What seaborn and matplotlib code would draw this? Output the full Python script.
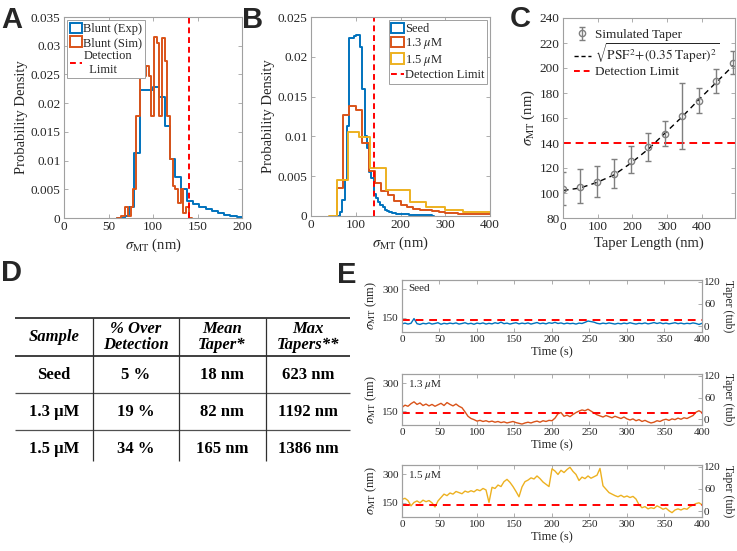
import numpy as np
import pandas as pd
import matplotlib
matplotlib.use("Agg")
import matplotlib.pyplot as plt
import seaborn as sns
from matplotlib.patches import Patch
from matplotlib.lines import Line2D
from matplotlib.ticker import FuncFormatter

# ---------------- data ----------------
DETECTION = 140  # nm

# A: blunt microtubule ends, experiment vs simulation
blunt_exp_edges = [60, 68, 73, 78.5, 85, 92, 99.5, 106.5, 113.5, 119.5, 125, 132, 138,
                   145, 152, 159, 166, 173, 180, 187, 194, 200, 205]
blunt_exp_dens = [0, 0.0004, 0.002, 0.0114, 0.0223, 0.0223, 0.0228, 0.0211, 0.016, 0.0103,
                  0.0072, 0.005, 0.0029, 0.0024, 0.0019, 0.0016, 0.0012, 0.0008, 0.0006,
                  0.0004, 0.0002, 0]
blunt_sim_edges = [60, 64, 68, 72, 75, 77.5, 81, 85, 89, 92, 95.5, 98, 101, 104, 107, 110,
                   113, 116, 119, 122, 125, 128, 131, 134, 137, 140, 144]
blunt_sim_dens = [0, 0.0003, 0.002, 0.0003, 0.002, 0.005, 0.0177, 0.0258, 0.0248, 0.0265,
                  0.0248, 0.0177, 0.0316, 0.0305, 0.0177, 0.0313, 0.0273, 0.0177, 0.0102,
                  0.0055, 0.005, 0.0026, 0.005, 0.0009, 0.002, 0]

# B: seed vs growing ends
seed_edges = [60, 65, 70, 75, 80, 85, 90, 95, 100, 105, 110, 115, 120, 125, 130, 135, 140,
              145, 150, 155, 160, 165, 170, 175, 180, 190, 200, 220, 240, 270, 275]
seed_dens = [0, 0.0005, 0.002, 0.0045, 0.0113, 0.0224, 0.0224, 0.0226, 0.0228, 0.0228,
             0.0212, 0.016, 0.0101, 0.0085, 0.0055, 0.0048, 0.0028, 0.0022, 0.0018, 0.0014,
             0.0011, 0.0008, 0.0006, 0.0005, 0.0004, 0.0003, 0.0002, 0.0001, 0.0001, 0]
tub13_edges = [43, 57, 71.4, 85.7, 100, 114.3, 128.6, 142.9, 157.1, 171.4, 185.7, 200,
               214.3, 228.6, 242.9, 257.1, 271.4, 285.7, 300, 314.3, 328.6, 342.9, 357.1,
               371.4, 385.7, 400]
tub13_dens = [0, 0.0035, 0.0127, 0.0138, 0.0133, 0.0092, 0.0056, 0.0041, 0.0031, 0.0026,
              0.0019, 0.0014, 0.0011, 0.0009, 0.0008, 0.0007, 0.0006, 0.0005, 0.0004, 0.0004,
              0.0003, 0.0003, 0.0002, 0.0002, 0.0002]
tub15_edges = [40, 58, 82, 108, 132, 168, 222, 258, 300, 340, 400]
tub15_dens = [0, 0.0045, 0.0106, 0.0099, 0.006, 0.0033, 0.0018, 0.0011, 0.0008, 0.0005]

# C: simulated tapers
taper_len = [0, 49, 98, 147, 196, 245, 294, 343, 392, 441, 490]
sigma_mean = [103.5, 105, 109, 115.5, 126, 136.5, 147, 162, 174, 189.5, 204]
sigma_low = [90.7, 92, 96.8, 104, 116, 125.3, 137.3, 135.5, 164, 180, 195.5]
sigma_high = [116.8, 119, 121.9, 127.5, 137.9, 148, 158, 188, 184, 199, 214]
fit_sigma = [102, 104, 108.5, 114.5, 124, 135, 148, 161, 175, 188.5, 202]

# D: table
samples = ["Seed", "1.3 \u03bcM", "1.5 \u03bcM"]
pct_over = ["5 %", "19 %", "34 %"]
mean_taper = ["18 nm", "82 nm", "165 nm"]
max_taper = ["623 nm", "1192 nm", "1386 nm"]
table_header = ["Sample", "% Over\nDetection", "Mean\nTaper*", "Max\nTapers**"]

# E: sigma_MT time traces (one value every 4 s, 0-400 s)
trace_seed = [118, 122, 117, 121, 146, 119, 115, 121, 118, 123,
              117, 120, 124, 116, 121, 118, 122, 119, 123, 117,
              120, 124, 118, 121, 116, 122, 119, 123, 117, 121,
              118, 124, 120, 127, 119, 122, 117, 121, 124, 118,
              122, 119, 123, 117, 121, 125, 119, 122, 118, 124,
              121, 126, 120, 123, 118, 122, 119, 121, 117, 122,
              120, 126, 133, 130, 127, 121, 118, 122, 119, 123,
              120, 117, 121, 118, 122, 119, 124, 120, 117, 121,
              119, 123, 118, 121, 125, 120, 124, 119, 122, 118,
              121, 124, 119, 122, 118, 121, 119, 123, 120, 115,
              121]
trace_13 = [170, 182, 176, 190, 200, 186, 194, 180, 188, 178,
            186, 176, 184, 192, 180, 196, 186, 178, 188, 176,
            168, 146, 122, 110, 104, 96, 100, 94, 98, 92,
            96, 90, 94, 88, 92, 86, 90, 94, 88, 84,
            80, 86, 90, 86, 92, 96, 90, 98, 94, 100,
            98, 112, 136, 142, 122, 128, 120, 132, 142, 150,
            156, 152, 160, 150, 140, 130, 124, 118, 126, 120,
            114, 122, 116, 110, 118, 108, 102, 108, 98, 104,
            94, 100, 92, 86, 90, 98, 94, 102, 106, 100,
            108, 104, 112, 106, 114, 110, 118, 126, 144, 152,
            142]
trace_15 = [168, 174, 162, 134, 152, 160, 150, 164, 156, 162,
            150, 128, 160, 178, 196, 188, 202, 196, 210, 204,
            198, 212, 206, 214, 208, 220, 214, 226, 218, 152,
            232, 226, 244, 236, 262, 274, 258, 236, 210, 182,
            234, 262, 270, 282, 276, 292, 278, 260, 248, 236,
            330, 318, 300, 322, 310, 326, 338, 316, 300, 268,
            286, 278, 292, 280, 288, 296, 332, 240, 222, 204,
            196, 188, 182, 190, 180, 186, 178, 184, 170, 140,
            124, 130, 118, 124, 120, 134, 126, 116, 122, 108,
            98, 112, 118, 112, 120, 116, 130, 138, 146, 150,
            140]
trace_labels = ["Seed", r"1.3 $\mu$M", r"1.5 $\mu$M"]

# ---------------- style ----------------
BLUE, ORANGE, YELLOW = "#0072BD", "#D95319", "#EDB120"
RED, GREY, SPINE = "#FF0000", "#7f7f7f", "#a0a0a0"

sns.set_theme(style="ticks")
plt.rcParams["font.family"] = ["Liberation Serif", "DejaVu Serif"]
plt.rcParams["mathtext.fontset"] = "stix"
plt.rcParams["text.color"] = "#262626"
plt.rcParams["axes.labelcolor"] = "#262626"
plt.rcParams["xtick.color"] = "#262626"
plt.rcParams["ytick.color"] = "#262626"

W, H = 737, 551
fig = plt.figure(figsize=(W / 100, H / 100), dpi=100)


def rect(left, top, right, bottom):
    return [left / W, 1 - bottom / H, (right - left) / W, (bottom - top) / H]


def matlab_axes(ax, fs=9.5, right=True):
    for s in ax.spines.values():
        s.set_color(SPINE)
        s.set_linewidth(0.8)
    ax.tick_params(direction="in", length=3, width=0.6, color=SPINE, labelsize=fs,
                   top=True, right=right, pad=2.5)


def step_hist(ax, edges, dens, color):
    centers = [(a + b) / 2 for a, b in zip(edges[:-1], edges[1:])]
    df = pd.DataFrame({"x": centers, "w": dens})
    sns.histplot(data=df, x="x", weights="w", bins=list(edges), element="step",
                 fill=False, color=color, linewidth=1.4, ax=ax)


gfmt = FuncFormatter(lambda v, p: f"{v:g}")
sig_label = r"$\sigma_{\rm MT}$ (nm)"

# ---------------- A ----------------
axA = fig.add_axes(rect(64, 17, 242, 218))
step_hist(axA, blunt_exp_edges, blunt_exp_dens, BLUE)
step_hist(axA, blunt_sim_edges, blunt_sim_dens, ORANGE)
axA.axvline(DETECTION, color=RED, ls=(0, (3, 2)), lw=1.4)
axA.set_xlim(0, 200)
axA.set_ylim(0, 0.035)
axA.set_xticks([0, 50, 100, 150, 200])
axA.set_yticks([0, 0.005, 0.01, 0.015, 0.02, 0.025, 0.03, 0.035])
axA.yaxis.set_major_formatter(gfmt)
axA.set_xlabel(sig_label, fontsize=10.5, labelpad=2)
axA.set_ylabel("Probability Density", fontsize=10.5, labelpad=2)
matlab_axes(axA)
hA = [Patch(facecolor="none", edgecolor=BLUE, lw=1.4),
      Patch(facecolor="none", edgecolor=ORANGE, lw=1.4),
      Line2D([], [], color=RED, ls=(0, (3, 2)), lw=1.4)]
legA = axA.legend(hA, ["Blunt (Exp)", "Blunt (Sim)", "Detection\n  Limit"], loc="upper left",
                  fontsize=9, handlelength=1.0, handleheight=0.9, handletextpad=0.1,
                  borderpad=0.2, labelspacing=0.1, borderaxespad=0.25, fancybox=False,
                  edgecolor=SPINE, framealpha=1)
legA.get_frame().set_linewidth(0.7)

# ---------------- B ----------------
axB = fig.add_axes(rect(311, 17, 490, 216))
step_hist(axB, seed_edges, seed_dens, BLUE)
step_hist(axB, tub13_edges, tub13_dens, ORANGE)
step_hist(axB, tub15_edges, tub15_dens, YELLOW)
axB.axvline(DETECTION, color=RED, ls=(0, (3, 2)), lw=1.4)
axB.set_xlim(0, 400)
axB.set_ylim(0, 0.025)
axB.set_xticks([0, 100, 200, 300, 400])
axB.set_yticks([0, 0.005, 0.01, 0.015, 0.02, 0.025])
axB.yaxis.set_major_formatter(gfmt)
axB.set_xlabel(sig_label, fontsize=10.5, labelpad=2)
axB.set_ylabel("Probability Density", fontsize=10.5, labelpad=2)
matlab_axes(axB)
hB = [Patch(facecolor="none", edgecolor=c, lw=1.4) for c in (BLUE, ORANGE, YELLOW)]
hB.append(Line2D([], [], color=RED, ls=(0, (3, 2)), lw=1.4))
legB = axB.legend(hB, ["Seed", r"1.3 $\mu$M", r"1.5 $\mu$M", "Detection Limit"],
                  loc="upper right", fontsize=9, handlelength=1.0, handleheight=0.9,
                  handletextpad=0.1, borderpad=0.2, labelspacing=0.1, borderaxespad=0.25,
                  fancybox=False, edgecolor=SPINE, framealpha=1)
legB.get_frame().set_linewidth(0.7)

# ---------------- C ----------------
axC = fig.add_axes(rect(563, 18, 735, 218))
axC.axhline(DETECTION, color=RED, ls=(0, (4, 2.5)), lw=1.4)
sns.lineplot(x=taper_len, y=fit_sigma, color="black", lw=1.0, linestyle=(0, (4, 3)), ax=axC)
yerr = [np.subtract(sigma_mean, sigma_low), np.subtract(sigma_high, sigma_mean)]
eb = axC.errorbar(taper_len, sigma_mean, yerr=yerr, fmt="o", ms=4.5, mfc="none", mec=GREY,
                  mew=1.0, ecolor=GREY, elinewidth=1.0, capsize=2.5, capthick=1.0)
axC.set_xlim(0, 495)
axC.set_ylim(80, 240)
axC.set_xticks([0, 100, 200, 300, 400])
axC.set_yticks(range(80, 241, 20))
axC.set_xlabel("Taper Length (nm)", fontsize=10.5, labelpad=2)
axC.set_ylabel(sig_label, fontsize=10.5, labelpad=2)
matlab_axes(axC)
axC.legend([eb, Line2D([], [], color="black", ls=(0, (3, 2)), lw=1.0),
            Line2D([], [], color=RED, ls=(0, (3, 2)), lw=1.4)],
           ["Simulated Taper", r"$\sqrt{\mathrm{PSF}^2\!+\!(0.35\ \mathrm{Taper})^2}$",
            "Detection Limit"],
           loc="upper left", frameon=False, fontsize=9.5, handlelength=1.3,
           handletextpad=0.3, labelspacing=0.05, borderaxespad=0.4)

# ---------------- D (table) ----------------
axT = fig.add_axes([0, 0, 1, 1], zorder=-1)
axT.set_xlim(0, W)
axT.set_ylim(H, 0)
axT.axis("off")
col_x = [54, 136, 222, 308]
row_y = [375, 412, 449]
axT.hlines([318, 356], 15, 350, color="#303030", lw=1.3)
axT.hlines([393, 430], 15, 350, color="#505050", lw=0.9)
axT.vlines([93, 179, 266], 318, 461, color="#303030", lw=0.9)
for x, txt in zip(col_x, table_header):
    axT.text(x, 337, txt, ha="center", va="center", fontsize=12, fontweight="bold",
             fontstyle="italic", linespacing=1.05, color="black")
for y, a, b, c, d in zip(row_y, samples, pct_over, mean_taper, max_taper):
    for x, txt in zip(col_x, (a, b, c, d)):
        axT.text(x, y, txt, ha="center", va="center", fontsize=12, fontweight="bold",
                 color="black")

# ---------------- E ----------------
traces = [trace_seed, trace_13, trace_15]
colors = [BLUE, ORANGE, YELLOW]
e_rects = [(402, 280, 702, 332), (402, 374, 702, 425), (402, 465, 702, 517)]
for vals, col, lab, r in zip(traces, colors, trace_labels, e_rects):
    ax = fig.add_axes(rect(*r))
    t = np.linspace(0, 400, len(vals))
    sns.lineplot(x=t, y=vals, color=col, lw=1.0, ax=ax)
    ax.axhline(DETECTION, color=RED, ls=(0, (4, 3)), lw=1.4)
    ax.set_xlim(0, 400)
    ax.set_ylim(75, 350)
    ax.set_xticks(range(0, 401, 50))
    ax.set_yticks([150, 300])
    ax.set_xlabel("Time (s)", fontsize=9, labelpad=1)
    ax.set_ylabel(sig_label, fontsize=9, labelpad=2)
    matlab_axes(ax, fs=8, right=False)
    ax.text(0.02, 0.93, lab, transform=ax.transAxes, va="top", ha="left", fontsize=8)
    axr = ax.twinx()
    axr.set_ylim(-16, 125)
    axr.set_yticks([0, 60, 120])
    axr.set_ylabel("Taper (tub)", fontsize=8.5, rotation=270, va="bottom", labelpad=1)
    matlab_axes(axr, fs=8)
    axr.tick_params(left=False, top=False, pad=1.5)

# ---------------- panel letters ----------------
for letter, x, y in [("A", 1, 28), ("B", 242, 28), ("C", 510, 27), ("D", 1, 281), ("E", 337, 283)]:
    fig.text(x / W, 1 - y / H, letter, fontsize=21, fontweight="bold", va="baseline",
             family=["Liberation Sans", "DejaVu Sans"])

fig.savefig("out.png", dpi=100)
